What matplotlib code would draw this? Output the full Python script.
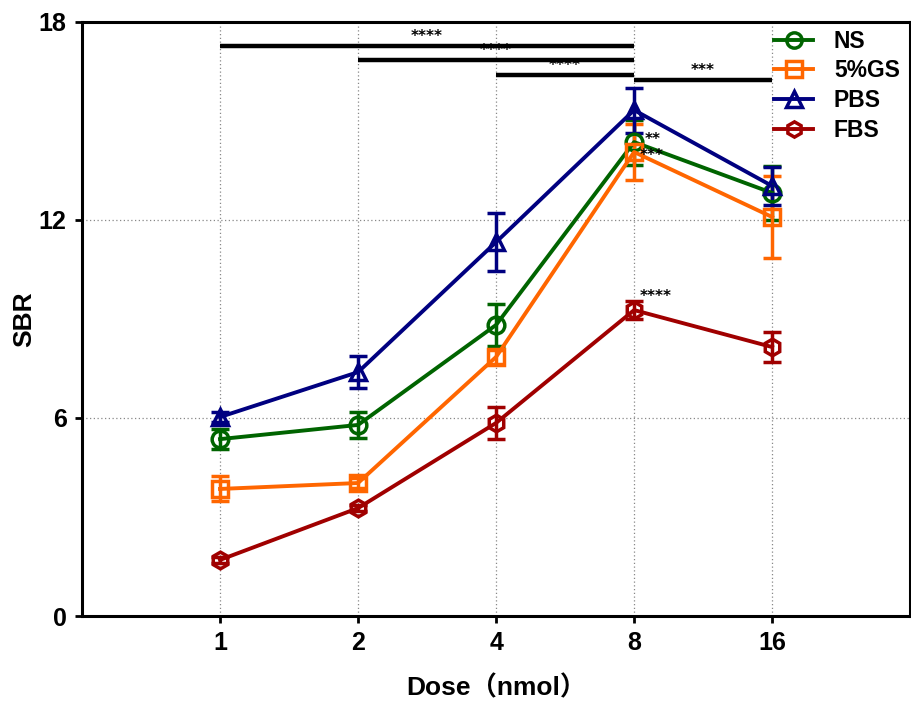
import matplotlib.pyplot as plt
from matplotlib.lines import Line2D

doses = ['1', '2', '4', '8', '16']
groups = ['NS', '5%GS', 'PBS', 'FBS']

ns_mean = [5.36, 5.79, 8.82, 14.36, 12.82]
ns_err = [0.30, 0.40, 0.64, 0.68, 0.82]
gs_mean = [3.85, 4.03, 7.85, 14.06, 12.09]
gs_err = [0.38, 0.15, 0.20, 0.85, 1.23]
pbs_mean = [6.03, 7.39, 11.33, 15.33, 13.03]
pbs_err = [0.15, 0.48, 0.88, 0.68, 0.58]
fbs_mean = [1.70, 3.27, 5.85, 9.27, 8.15]
fbs_err = [0.10, 0.10, 0.48, 0.28, 0.45]

# comparison bars: (start index, end index, height, label)
sig_bars = [(0, 3, 17.27, '****'), (1, 3, 16.85, '****'),
            (2, 3, 16.39, '****'), (3, 4, 16.24, '***')]
# point annotations: (index, y, label)
point_marks = [(3, 14.45, '**'), (3, 13.95, '***'), (3, 9.45, '****')]

means = [ns_mean, gs_mean, pbs_mean, fbs_mean]
errs = [ns_err, gs_err, pbs_err, fbs_err]
colors = ['#006400', '#FF6600', '#000080', '#A00000']
markers = ['o', 's', '^', 'h']

fnt = ['Liberation Sans', 'DejaVu Sans']

fig = plt.figure(figsize=(9.12, 7.02), dpi=100)
ax = fig.add_axes([0.0899, 0.1225, 0.9081, 0.8462])

x = list(range(len(doses)))
handles = []
for name, m, e, c, mk in zip(groups, means, errs, colors, markers):
    ax.errorbar(x, m, yerr=e, color=c, marker=mk, markersize=12,
                mfc='none', mec=c, mew=2.5, lw=2.8, capsize=6.5,
                capthick=2.5, elinewidth=2.5)
    handles.append(Line2D([], [], color=c, marker=mk, markersize=11,
                          mfc='none', mec=c, mew=2.5, lw=2.8, label=name))

for i0, i1, h, lab in sig_bars:
    ax.plot([x[i0], x[i1]], [h, h], color='black', lw=3.2, solid_capstyle='butt')
    ax.text((x[i0] + x[i1]) / 2, h + 0.06, lab, ha='center', va='bottom',
            fontsize=11, fontweight='bold')

ax.text(x[3] + 0.08, point_marks[0][1], point_marks[0][2], fontsize=11,
        fontweight='bold', va='center')
ax.text(x[3] + 0.04, point_marks[1][1], point_marks[1][2], fontsize=11,
        fontweight='bold', va='center')
ax.text(x[3] + 0.04, point_marks[2][1], point_marks[2][2], fontsize=11,
        fontweight='bold', va='bottom')

ax.set_xlim(-1, 5)
ax.set_ylim(0, 18)
ax.set_xticks(x)
ax.set_xticklabels(doses)
ax.set_yticks([0, 6, 12, 18])
ax.grid(True, color='#888888', linestyle=(0, (1, 2)), lw=0.9)
ax.set_axisbelow(True)

for sp in ax.spines.values():
    sp.set_linewidth(2.2)
ax.tick_params(width=2, length=5, labelsize=18, pad=6)
for t in ax.get_xticklabels() + ax.get_yticklabels():
    t.set_fontweight('bold')
    t.set_family(fnt)

ax.set_ylabel('SBR', fontsize=19, fontweight='bold', family=fnt, labelpad=2)
ax.set_xlabel('Dose（nmol）', fontsize=19, fontweight='bold',
              family=['Liberation Sans', 'Noto Sans CJK SC'], labelpad=14)

leg = ax.legend(handles=handles, loc='upper right', bbox_to_anchor=(0.993, 0.995),
                frameon=False, handlelength=1.7,
                prop={'size': 16.5, 'weight': 'bold', 'family': fnt},
                borderaxespad=0.0, borderpad=0.2, labelspacing=0.3,
                handletextpad=0.9)

fig.savefig('out.png', dpi=100)
